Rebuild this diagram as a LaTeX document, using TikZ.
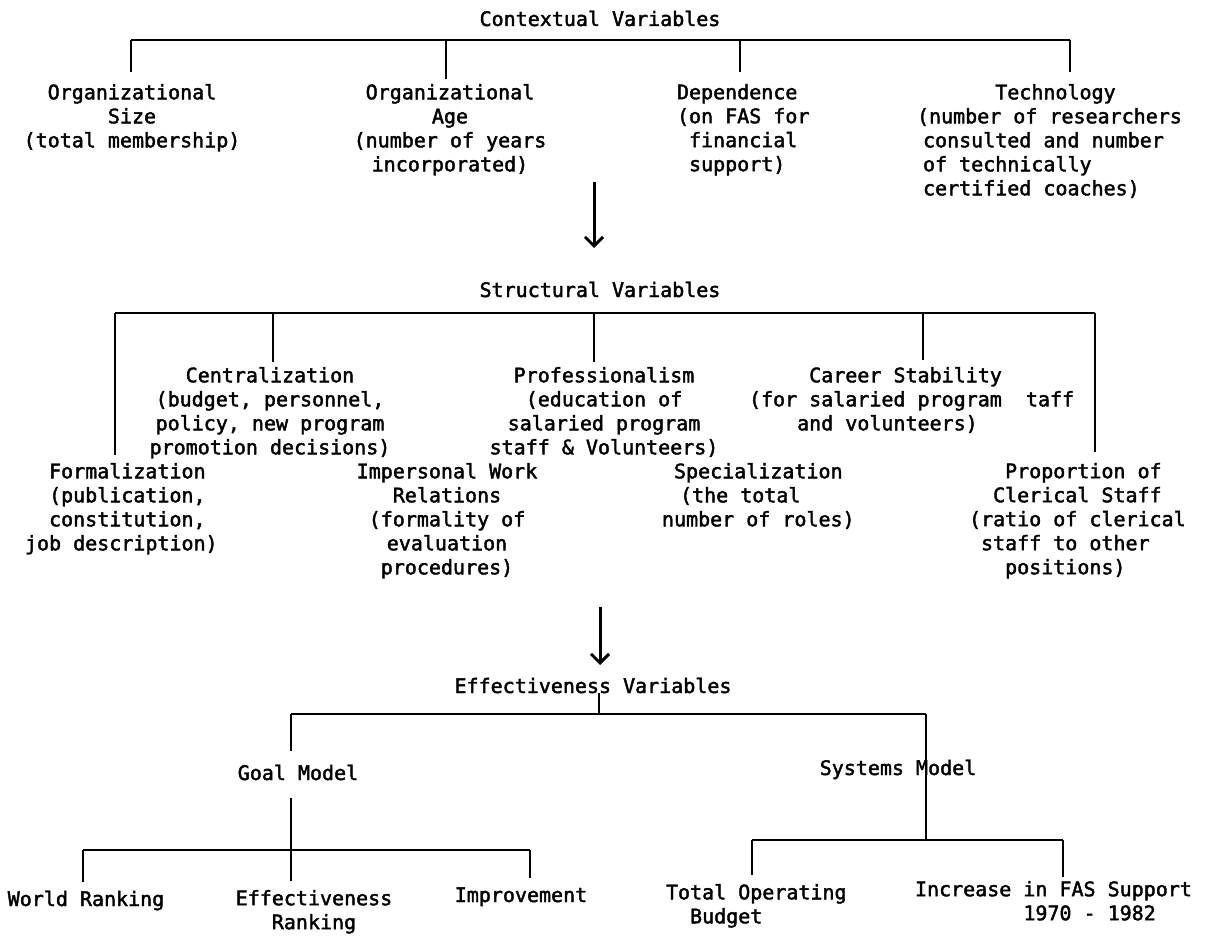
\documentclass[tikz,border=0pt]{standalone}
\usepackage{fontspec}
\setmonofont{DejaVu Sans Mono}[FakeBold=2]
\usetikzlibrary{arrows.meta,calc}
\newcommand\ind[1]{\hspace*{\fpeval{#1*0.602}em}}
\tikzset{
  txt/.style={font=\ttfamily\fontsize{20}{24}\selectfont, inner sep=0pt, outer sep=0pt},
  ctr/.style={txt, align=center, anchor=north},
  lft/.style={txt, align=left, anchor=north west},
  ttl/.style={txt, anchor=base},
  ln/.style={line width=2pt},
  arr/.style={line width=3pt, -{Straight Barb[length=9pt,width=18pt]}}
}
\begin{document}
\begin{tikzpicture}[x=1pt,y=-1pt]
\useasboundingbox[fill=white] (0,0) rectangle (1205,939);

% ---------- Contextual ----------
\node[ttl] (ctx) at (600,26) {Contextual Variables};
\coordinate (b1l) at (131,40);
\coordinate (b1a) at (446,40);
\coordinate (b1b) at (740,40);
\coordinate (b1r) at (1070,40);
\draw[ln] (b1l) -- (b1r);

\node[ctr] (size) at (132,84) {Organizational\\Size\\(total membership)};
\node[ctr] (age) at (450,84) {Organizational\\Age\\(number of years\\incorporated)};
\node[lft] (dep) at (677,84) {Dependence\\(on FAS for\\\ind{1}financial\\\ind{1}support)};
\node[lft] (tech) at (917,84) {\ind{6.5}Technology\\(number of researchers\\\ind{0.5}consulted and number\\\ind{0.5}of technically\\\ind{0.5}certified coaches)};

\draw[ln,shorten >=12pt] (b1l) -- (b1l |- size.north);
\draw[ln,shorten >=5pt] (b1a) -- (b1a |- age.north);
\draw[ln,shorten >=12pt] (b1b) -- (b1b |- dep.north);
\draw[ln,shorten >=12pt] (b1r) -- (b1r |- tech.north);

\coordinate (a1s) at (594,182);
\coordinate (a1e) at (594,248);
\draw[arr] (a1s) -- (a1e);

% ---------- Structural ----------
\node[ttl] (str) at (600,297) {Structural Variables};
\coordinate (b2l) at (115,313);
\coordinate (b2a) at (273,313);
\coordinate (b2b) at (594,313);
\coordinate (b2c) at (923,313);
\coordinate (b2r) at (1095,313);
\draw[ln] (b2l) -- (b2r);

\node[ctr] (cent) at (270,367) {Centralization\\(budget, personnel,\\policy, new program\\promotion decisions)};
\node[ctr] (prof) at (604,367) {Professionalism\\(education of\\salaried program\\staff \& Volunteers)};
\node[lft] (car) at (749,367) {\ind{5}Career Stability\\(for salaried program~~taff\\\ind{4}and volunteers)};

\node[lft] (form) at (25,463) {\ind{2}Formalization\\\ind{2}(publication,\\\ind{2}constitution,\\job description)};
\node[ctr] (imp) at (447,463) {Impersonal Work\\Relations\\(formality of\\evaluation\\procedures)};
\node[lft] (spec) at (662,463) {\ind{1}Specialization\\\ind{1.5}(the total\\number of roles)};
\node[lft] (prop) at (969,463) {\ind{3}Proportion of\\\ind{2}Clerical Staff\\(ratio of clerical\\\ind{1}staff to other\\\ind{3}positions)};

\draw[ln,shorten >=8pt] (b2l) -- (b2l |- form.north);
\draw[ln,shorten >=5pt] (b2a) -- (b2a |- cent.north);
\draw[ln,shorten >=5pt] (b2b) -- (b2b |- prof.north);
\draw[ln,shorten >=7pt] (b2c) -- (b2c |- car.north);
\draw[ln,shorten >=11pt] (b2r) -- (b2r |- prop.north);

\coordinate (a2s) at (600,607);
\coordinate (a2e) at (600,665);
\draw[arr] (a2s) -- (a2e);

% ---------- Effectiveness ----------
\node[ttl] (eff) at (593,693) {Effectiveness Variables};
\coordinate (b3l) at (291,714);
\coordinate (b3c) at (599,714);
\coordinate (b3r) at (926,714);
\draw[ln] (b3l) -- (b3r);
\draw[ln] (b3c) -- (b3c |- eff.south);

\node[ttl] (goal) at (298,780) {Goal Model};
\node[ttl] (sys) at (898,775) {Systems Model};
\draw[ln,shorten >=14pt] (b3l) -- (b3l |- goal.north);

% Goal model subtree
\coordinate (g1l) at (83,850);
\coordinate (g1c) at (291,850);
\coordinate (g1r) at (530,850);
\draw[ln] (g1l) -- (g1r);
\node[ttl] (wr) at (86,906) {World Ranking};
\node[ctr] (er) at (314,890) {Effectiveness\\Ranking};
\node[ttl] (impv) at (521,902) {Improvement};
\draw[ln,shorten <=18pt,shorten >=9pt] (g1c |- goal.south) -- (g1c |- er.north);
\draw[ln,shorten >=9pt] (g1l) -- (g1l |- wr.north);
\draw[ln,shorten >=9pt] (g1r) -- (g1r |- impv.north);

% Systems model subtree
\coordinate (s1l) at (752,840);
\coordinate (s1c) at (926,840);
\coordinate (s1r) at (1063,840);
\draw[ln] (s1l) -- (s1r);
\draw[ln] (b3r) -- (s1c);
\node[lft] (tob) at (666,884) {Total Operating\\\ind{2}Budget};
\node[lft] (inc) at (915,881) {Increase in FAS Support\\\ind{9}1970 - 1982};
\draw[ln,shorten >=9pt] (s1l) -- (s1l |- tob.north);
\draw[ln,shorten >=4pt] (s1r) -- (s1r |- inc.north);
\end{tikzpicture}
\end{document}
